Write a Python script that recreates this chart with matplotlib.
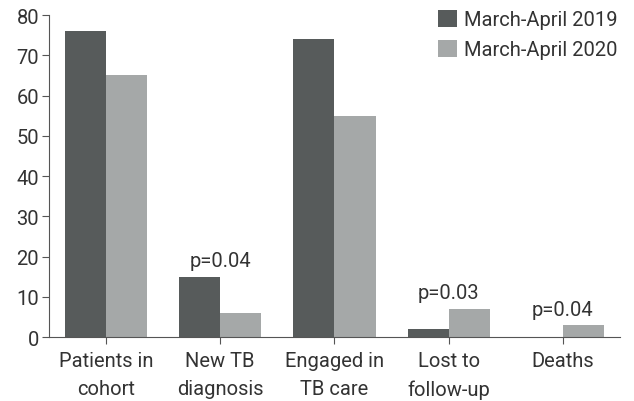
import matplotlib
matplotlib.use("Agg")
import matplotlib.pyplot as plt
import numpy as np

categories = ["Patients in\ncohort", "New TB\ndiagnosis", "Engaged in\nTB care", "Lost to\nfollow-up", "Deaths"]
series_2019 = [76, 15, 74, 2, 0]
series_2020 = [65, 6, 55, 7, 3]
labels = ["March-April 2019", "March-April 2020"]
pvalues = [None, "p=0.04", None, "p=0.03", "p=0.04"]
yticks = [0, 10, 20, 30, 40, 50, 60, 70, 80]

plt.rcParams['font.family'] = ['Roboto', 'DejaVu Sans']
txt = "#333333"
fs = 14.5
fig = plt.figure(figsize=(6.34, 4.02), dpi=100)
ax = fig.add_axes([0.077, 0.159, 0.901, 0.801])
x = np.arange(len(categories))
w = 0.36
ax.bar(x - w/2, series_2019, w, color="#575b5b", label=labels[0])
ax.bar(x + w/2, series_2020, w, color="#a5a8a8", label=labels[1])
for i, p in enumerate(pvalues):
    if p:
        ax.text(x[i], max(series_2019[i], series_2020[i]) + 1.6, p, ha="center", va="bottom",
                fontsize=fs, color=txt)
ax.set_xlim(-0.5, len(categories) - 0.5)
ax.set_ylim(0, 80)
ax.set_yticks(yticks)
ax.set_xticks(x)
ax.set_xticklabels(categories, fontsize=fs, color=txt, linespacing=1.6)
ax.tick_params(axis='y', labelsize=fs, labelcolor=txt, color="#555555", length=5, pad=2)
ax.tick_params(axis='x', color="#555555", length=5, pad=5)
for s in ["top", "right"]:
    ax.spines[s].set_visible(False)
for s in ["left", "bottom"]:
    ax.spines[s].set_color("#555555")
ax.legend(loc="upper right", bbox_to_anchor=(1.02, 1.06), frameon=False, fontsize=fs,
          handlelength=0.95, handleheight=0.95, handletextpad=0.35, labelspacing=0.5,
          labelcolor=txt, borderaxespad=0.3)
fig.savefig("out.png", dpi=100)
